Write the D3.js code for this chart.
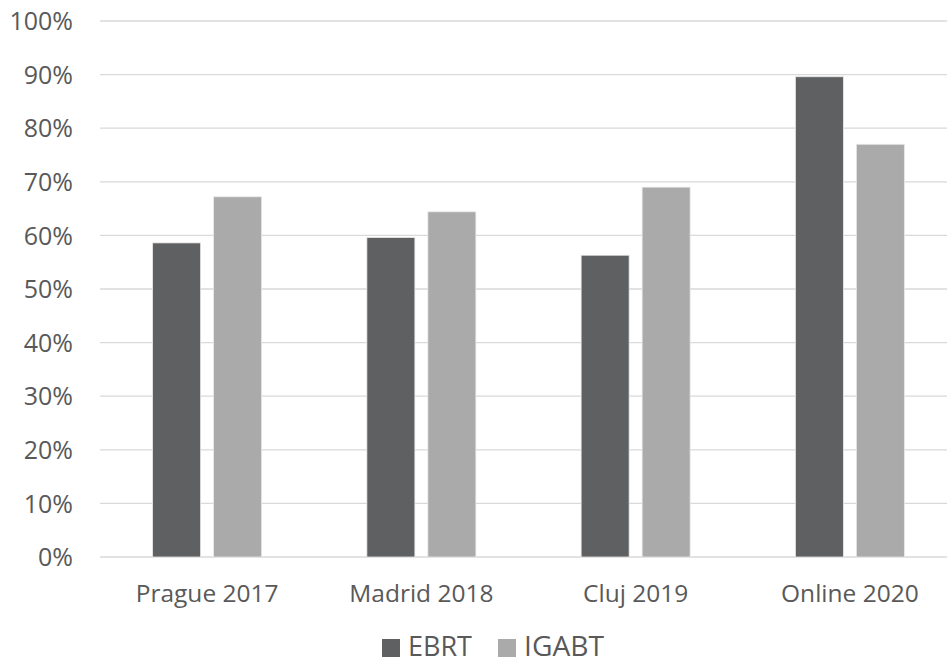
<!DOCTYPE html>
<html><head><meta charset="utf-8">
<script src="https://cdn.jsdelivr.net/npm/d3@7"></script>
<style>body{margin:0;background:#fff;} text{font-family:"Open Sans","Noto Sans",sans-serif;fill:#595959;}</style>
</head><body>
<svg id="c" width="947" height="663"></svg>
<script>
const categories = ["Prague 2017","Madrid 2018","Cluj 2019","Online 2020"];
const seriesNames = ["EBRT","IGABT"];
const ebrt = [58.6, 59.6, 56.3, 89.6];
const igabt = [67.2, 64.4, 69.0, 77.0];
const yTicks = [0,10,20,30,40,50,60,70,80,90,100];
const colors = ["#5f6062","#a9aaa9"];

const svg = d3.select("#c");
const x = d3.scaleBand().domain(categories).range([100, 957]).paddingInner(0).paddingOuter(0);
const y = d3.scaleLinear().domain([0,100]).range([557, 21]);
const bw = x.bandwidth();
const xs = d3.scaleBand().domain(seriesNames).range([bw/2-54.5, bw/2+54.5]).paddingInner(0.213).paddingOuter(0);

// gridlines
svg.append("g").selectAll("line").data(yTicks).join("line")
  .attr("x1",100).attr("x2",947).attr("y1",d=>y(d)).attr("y2",d=>y(d))
  .attr("stroke","#d9d9d9").attr("stroke-width",1.3);

// y axis labels
const yAxis = d3.axisLeft(y).tickValues(yTicks).tickFormat(d=>d+"%").tickSize(0).tickPadding(0);
const ga = svg.append("g").attr("transform","translate(73,0)").call(yAxis);
ga.select(".domain").remove();
ga.selectAll("text").attr("font-size",25).attr("fill","#595959").attr("font-family","'Open Sans','Noto Sans',sans-serif").attr("dy","0.35em");

// bars
const data = categories.map((c,i)=>({c, vals:[ebrt[i], igabt[i]]}));
const grp = svg.append("g").selectAll("g").data(data).join("g").attr("transform",d=>`translate(${x(d.c)},0)`);
grp.selectAll("rect").data(d=>d.vals.map((v,j)=>({s:seriesNames[j], v, j}))).join("rect")
  .attr("x",d=>xs(d.s)).attr("width",xs.bandwidth())
  .attr("y",d=>y(d.v)).attr("height",d=>y(0)-y(d.v))
  .attr("fill",d=>colors[d.j]).attr("stroke","#e8e8e8").attr("stroke-width",0.8);

// x labels
const xAxis = d3.axisBottom(x).tickSize(0).tickPadding(0);
const gx = svg.append("g").attr("transform","translate(0,0)").call(xAxis);
gx.select(".domain").remove();
gx.selectAll("text").attr("font-size",24.5).attr("fill","#595959").attr("font-family","'Open Sans','Noto Sans',sans-serif").attr("y",602).attr("dy",null);

// legend
const legX = [382, 498];
const legT = [408, 524];
const lg = svg.append("g").selectAll("g").data(seriesNames).join("g");
lg.append("rect").attr("x",(d,i)=>legX[i]).attr("y",639).attr("width",18).attr("height",18).attr("fill",(d,i)=>colors[i]);
lg.append("text").attr("x",(d,i)=>legT[i]).attr("y",656).attr("font-size",26.5).attr("textLength",(d,i)=>i===0?64:80).attr("lengthAdjust","spacingAndGlyphs").text(d=>d);
</script>
</body></html>
